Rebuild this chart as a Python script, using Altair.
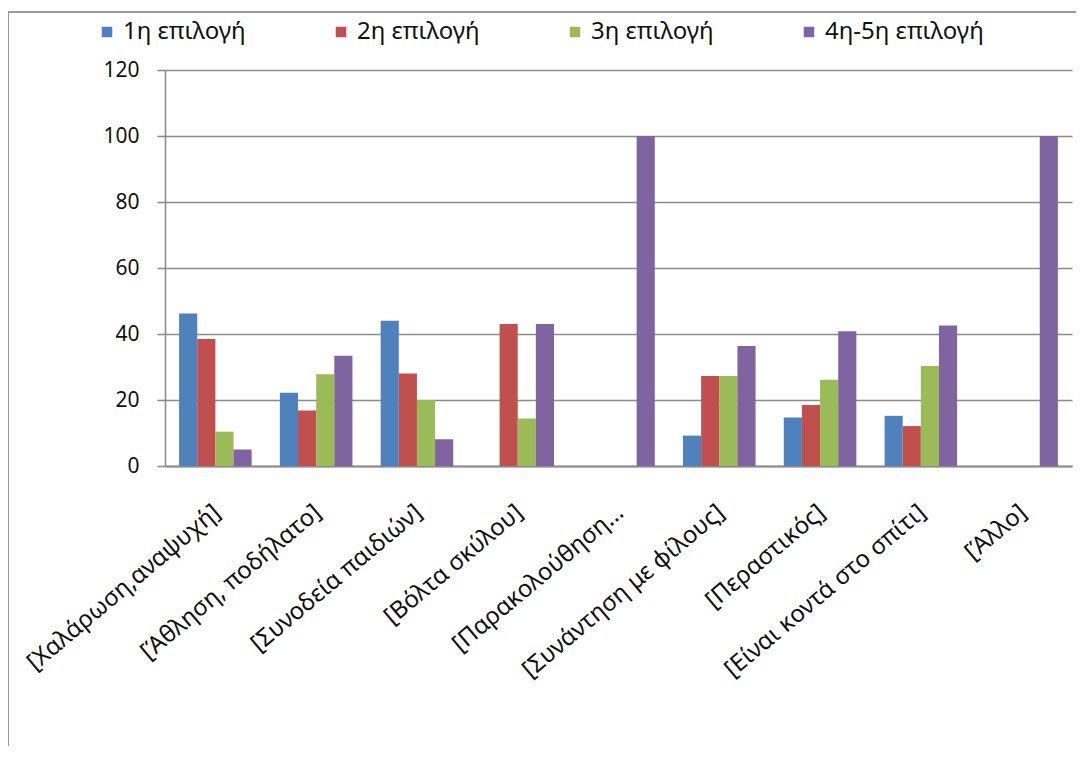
import altair as alt
import pandas as pd

categories = [
    "[Χαλάρωση,αναψυχή]",
    "[Άθληση, ποδήλατο]",
    "[Συνοδεία παιδιών]",
    "[Βόλτα σκύλου]",
    "[Παρακολούθηση…",
    "[Συνάντηση με φίλους]",
    "[Περαστικός]",
    "[Είναι κοντά στο σπίτι]",
    "[Άλλο]",
]
series_names = ["1η επιλογή", "2η επιλογή", "3η επιλογή", "4η-5η επιλογή"]
s1 = [46.2, 22.2, 44.0, 0, 0, 9.2, 14.7, 15.2, 0]
s2 = [38.5, 16.8, 28.0, 43.0, 0, 27.3, 18.5, 12.1, 0]
s3 = [10.4, 27.8, 20.0, 14.4, 0, 27.3, 26.1, 30.3, 0]
s4 = [5.0, 33.4, 8.1, 43.0, 100, 36.4, 40.8, 42.6, 100]
colors = ["#4F81BD", "#C0504D", "#9BBB59", "#8064A2"]
y_ticks = [0, 20, 40, 60, 80, 100, 120]

rows = []
for name, vals in zip(series_names, [s1, s2, s3, s4]):
    for c, v in zip(categories, vals):
        rows.append({"cat": c, "series": name, "value": v})
df = pd.DataFrame(rows)

FONT = "Noto Sans"

bars = alt.Chart(df).mark_bar().encode(
    x=alt.X(
        "cat:N",
        sort=categories,
        title=None,
        scale=alt.Scale(paddingInner=0.28, paddingOuter=0.14),
        axis=alt.Axis(
            labelAngle=-40,
            labelAlign="right",
            labelBaseline="middle",
            labelPadding=43,
            labelOffset=2,
            ticks=False,
            tickSize=0,
            labelFont=FONT,
            labelFontSize=24,
            labelColor="#111111",
            labelLimit=400,
            domainColor="#8c8c8c",
            domainWidth=2,
            grid=False,
        ),
    ),
    xOffset=alt.XOffset("series:N", sort=series_names, scale=alt.Scale(paddingInner=0, paddingOuter=0)),
    y=alt.Y(
        "value:Q",
        title=None,
        scale=alt.Scale(domain=[0, 120], nice=False),
        axis=alt.Axis(
            values=y_ticks,
            grid=True,
            gridColor="#8c8c8c",
            gridWidth=1.6,
            domainColor="#8c8c8c",
            domainWidth=1.6,
            tickColor="#8c8c8c",
            tickSize=8,
            tickWidth=1.6,
            labelPadding=18,
            labelFont=FONT,
            labelFontSize=21,
            labelColor="#111111",
        ),
    ),
    color=alt.Color(
        "series:N",
        sort=series_names,
        scale=alt.Scale(domain=series_names, range=colors),
        legend=alt.Legend(
            orient="none",
            legendX=-70,
            legendY=-50,
            direction="horizontal",
            title=None,
            symbolType="square",
            symbolSize=110,
            symbolStrokeWidth=0,
            labelFont=FONT,
            labelFontSize=24,
            labelColor="#111111",
            labelOffset=4,
            columnPadding=83,
        ),
    ),
)

frame_data = alt.Data(values=[{"k": 1}])
top_line = alt.Chart(frame_data).mark_rule(color="#9a9a9a", strokeWidth=2).encode(
    x=alt.value(-157), x2=alt.value(930), y=alt.value(-58)
)
left_line = alt.Chart(frame_data).mark_rule(color="#9a9a9a", strokeWidth=2).encode(
    x=alt.value(-157), y=alt.value(-58), y2=alt.value(720)
)

chart = alt.layer(bars, top_line, left_line).properties(
    width=907,
    height=396,
    autosize=alt.AutoSizeParams(type="none"),
    padding={"left": 157, "top": 62, "right": 4, "bottom": 280},
    background="white",
).configure_view(stroke=None)

chart.save("out.html", embed_options={"renderer": "svg", "actions": False})
